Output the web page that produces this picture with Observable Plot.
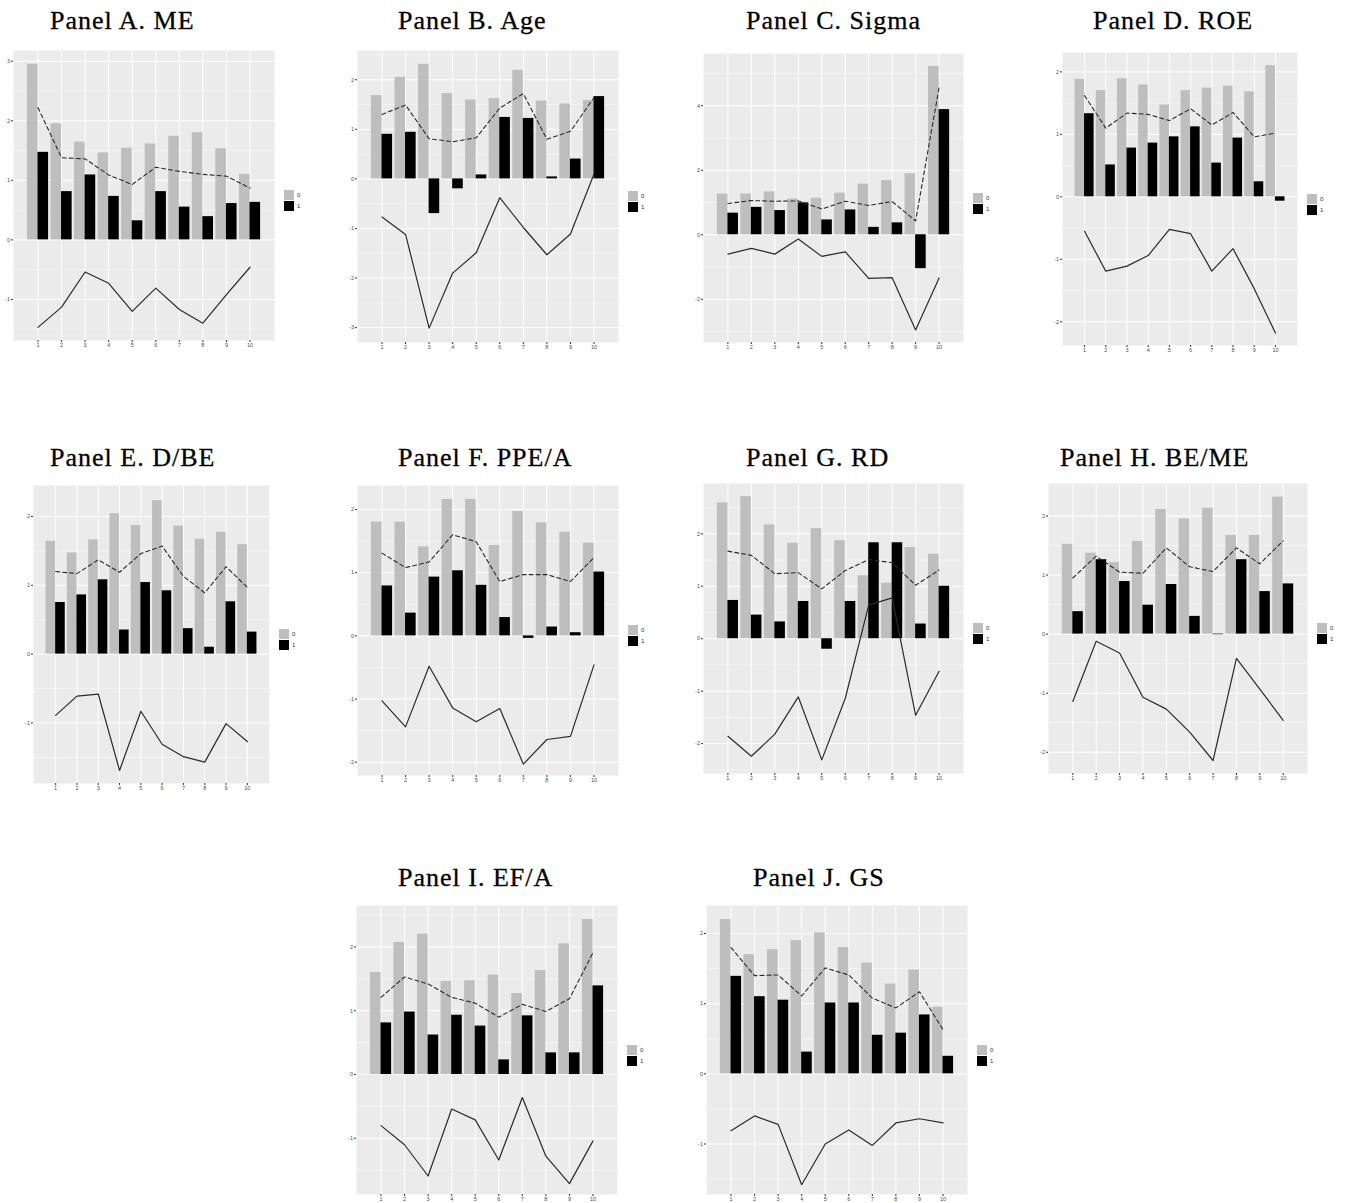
<!DOCTYPE html>
<html>
<head>
<meta charset="utf-8">
<script src="https://cdn.jsdelivr.net/npm/d3@7"></script>
<script src="https://cdn.jsdelivr.net/npm/@observablehq/plot@0.6"></script>
<style>
  html, body { margin: 0; padding: 0; background: #fff; }
  #page { position: relative; width: 1348px; height: 1203px; overflow: hidden; }
  .title { position: absolute; font-family: "Liberation Serif", "Times New Roman", serif; font-size: 26px; line-height: 1; letter-spacing: 1px; color: #000; white-space: nowrap; -webkit-text-stroke: 0.3px #000; }
  .chart { position: absolute; }
  .key { position: absolute; width: 10px; height: 10px; }
  .keylab { position: absolute; font-family: "Liberation Sans", Arial, sans-serif; font-size: 6px; color: #333; line-height: 10px; }
</style>
</head>
<body>
<div id="page"></div>
<script>
// Deciles on the x axis
const deciles = [1, 2, 3, 4, 5, 6, 7, 8, 9, 10];
const groups = ["0", "1"];
const groupColors = ["#BEBEBE", "#000000"];

// Panel A. ME
const meBar0 = [2.95, 1.95, 1.64, 1.46, 1.54, 1.61, 1.74, 1.80, 1.53, 1.10];
const meBar1 = [1.47, 0.81, 1.09, 0.73, 0.32, 0.81, 0.55, 0.39, 0.61, 0.63];
const meMean = [2.22, 1.38, 1.36, 1.09, 0.93, 1.22, 1.15, 1.10, 1.07, 0.87];
const meDiff = [-1.47, -1.13, -0.54, -0.73, -1.20, -0.81, -1.17, -1.40, -0.92, -0.46];

// Panel B. Age
const ageBar0 = [1.68, 2.05, 2.31, 1.72, 1.59, 1.62, 2.19, 1.57, 1.51, 1.58];
const ageBar1 = [0.90, 0.94, -0.70, -0.20, 0.08, 1.24, 1.22, 0.04, 0.40, 1.66];
const ageMean = [1.30, 1.49, 0.81, 0.75, 0.83, 1.43, 1.72, 0.80, 0.96, 1.64];
const ageDiff = [-0.77, -1.12, -3.01, -1.90, -1.49, -0.38, -0.98, -1.53, -1.11, 0.10];

// Panel C. Sigma
const sigmaBar0 = [1.26, 1.26, 1.33, 1.11, 1.13, 1.29, 1.57, 1.68, 1.89, 5.22];
const sigmaBar1 = [0.67, 0.85, 0.75, 0.99, 0.46, 0.77, 0.23, 0.37, -1.05, 3.88];
const sigmaMean = [0.97, 1.06, 1.04, 1.05, 0.80, 1.04, 0.91, 1.03, 0.43, 4.57];
const sigmaDiff = [-0.60, -0.42, -0.60, -0.13, -0.67, -0.53, -1.35, -1.33, -2.95, -1.34];

// Panel D. ROE
const roeBar0 = [1.88, 1.70, 1.89, 1.79, 1.47, 1.70, 1.74, 1.77, 1.68, 2.10];
const roeBar1 = [1.33, 0.51, 0.78, 0.86, 0.96, 1.12, 0.54, 0.94, 0.24, -0.07];
const roeMean = [1.62, 1.10, 1.34, 1.32, 1.22, 1.41, 1.15, 1.35, 0.96, 1.02];
const roeDiff = [-0.55, -1.19, -1.11, -0.94, -0.52, -0.59, -1.19, -0.83, -1.47, -2.18];

// Panel E. D/BE
const dbeBar0 = [1.64, 1.47, 1.66, 2.04, 1.87, 2.23, 1.86, 1.67, 1.77, 1.59];
const dbeBar1 = [0.75, 0.86, 1.08, 0.35, 1.04, 0.92, 0.37, 0.10, 0.76, 0.32];
const dbeMean = [1.20, 1.17, 1.37, 1.19, 1.46, 1.57, 1.13, 0.89, 1.27, 0.97];
const dbeDiff = [-0.89, -0.61, -0.58, -1.69, -0.83, -1.31, -1.49, -1.57, -1.01, -1.27];

// Panel F. PPE/A
const ppeBar0 = [1.80, 1.80, 1.41, 2.16, 2.16, 1.43, 1.97, 1.79, 1.64, 1.47];
const ppeBar1 = [0.79, 0.36, 0.93, 1.03, 0.80, 0.29, -0.04, 0.14, 0.05, 1.01];
const ppeMean = [1.31, 1.08, 1.17, 1.60, 1.49, 0.86, 0.97, 0.97, 0.86, 1.24];
const ppeDiff = [-1.03, -1.44, -0.48, -1.14, -1.36, -1.15, -2.03, -1.64, -1.59, -0.46];

// Panel G. RD
const rdBar0 = [2.59, 2.71, 2.17, 1.82, 2.10, 1.87, 1.20, 1.06, 1.74, 1.61];
const rdBar1 = [0.73, 0.45, 0.32, 0.71, -0.20, 0.71, 1.83, 1.83, 0.28, 1.00];
const rdMean = [1.67, 1.59, 1.24, 1.26, 0.95, 1.30, 1.51, 1.45, 1.02, 1.31];
const rdDiff = [-1.86, -2.24, -1.82, -1.11, -2.31, -1.14, 0.64, 0.78, -1.46, -0.62];

// Panel H. BE/ME
const bmBar0 = [1.52, 1.37, 1.21, 1.57, 2.11, 1.95, 2.13, 1.67, 1.67, 2.32];
const bmBar1 = [0.38, 1.26, 0.89, 0.49, 0.84, 0.30, -0.01, 1.26, 0.72, 0.85];
const bmMean = [0.95, 1.32, 1.05, 1.03, 1.46, 1.14, 1.06, 1.46, 1.19, 1.58];
const bmDiff = [-1.14, -0.12, -0.32, -1.07, -1.27, -1.66, -2.14, -0.41, -0.93, -1.46];

// Panel I. EF/A
const efaBar0 = [1.60, 2.07, 2.20, 1.46, 1.47, 1.56, 1.27, 1.63, 2.05, 2.43];
const efaBar1 = [0.81, 0.98, 0.62, 0.93, 0.76, 0.23, 0.92, 0.34, 0.34, 1.39];
const efaMean = [1.21, 1.53, 1.42, 1.21, 1.12, 0.90, 1.10, 0.99, 1.19, 1.91];
const efaDiff = [-0.80, -1.10, -1.59, -0.54, -0.71, -1.34, -0.36, -1.28, -1.71, -1.04];

// Panel J. GS
const gsBar0 = [2.20, 1.70, 1.77, 1.90, 2.01, 1.80, 1.58, 1.28, 1.48, 0.95];
const gsBar1 = [1.39, 1.10, 1.05, 0.31, 1.01, 1.01, 0.55, 0.58, 0.84, 0.25];
const gsMean = [1.80, 1.40, 1.41, 1.11, 1.51, 1.41, 1.08, 0.94, 1.17, 0.63];
const gsDiff = [-0.81, -0.60, -0.72, -1.58, -1.00, -0.80, -1.02, -0.70, -0.64, -0.70];

// Panel titles
const titles = ["Panel A. ME", "Panel B. Age", "Panel C. Sigma", "Panel D. ROE", "Panel E. D/BE",
  "Panel F. PPE/A", "Panel G. RD", "Panel H. BE/ME", "Panel I. EF/A", "Panel J. GS"];

const series = [
  [meBar0, meBar1, meMean, meDiff],
  [ageBar0, ageBar1, ageMean, ageDiff],
  [sigmaBar0, sigmaBar1, sigmaMean, sigmaDiff],
  [roeBar0, roeBar1, roeMean, roeDiff],
  [dbeBar0, dbeBar1, dbeMean, dbeDiff],
  [ppeBar0, ppeBar1, ppeMean, ppeDiff],
  [rdBar0, rdBar1, rdMean, rdDiff],
  [bmBar0, bmBar1, bmMean, bmDiff],
  [efaBar0, efaBar1, efaMean, efaDiff],
  [gsBar0, gsBar1, gsMean, gsDiff]
];

// Page layout: panel box (l, t, r, b), y range, y ticks, title anchor (left, baseline)
const layout = [
  {box: [13, 50, 274, 340],    y: [-1.69, 3.18], ticks: [-1, 0, 1, 2, 3],     tx: 50,   ty: 30},
  {box: [357, 50, 618, 342],   y: [-3.30, 2.59], ticks: [-3, -2, -1, 0, 1, 2], tx: 398,  ty: 30},
  {box: [703, 53, 963, 342],   y: [-3.34, 5.62], ticks: [-2, 0, 2, 4],         tx: 746,  ty: 30},
  {box: [1062, 52, 1297, 345], y: [-2.38, 2.31], ticks: [-2, -1, 0, 1, 2],     tx: 1093, ty: 30},
  {box: [33, 485, 269, 783],   y: [-1.88, 2.45], ticks: [-1, 0, 1, 2],         tx: 50,   ty: 467},
  {box: [357, 485, 618, 775],  y: [-2.21, 2.38], ticks: [-2, -1, 0, 1, 2],     tx: 398,  ty: 467},
  {box: [703, 483, 963, 773],  y: [-2.57, 2.96], ticks: [-2, -1, 0, 1, 2],     tx: 746,  ty: 467},
  {box: [1048, 483, 1307, 773], y: [-2.36, 2.55], ticks: [-2, -1, 0, 1, 2],    tx: 1060, ty: 467},
  {box: [356, 905, 617, 1194], y: [-1.88, 2.65], ticks: [-1, 0, 1, 2],         tx: 398,  ty: 887},
  {box: [706, 905, 967, 1194], y: [-1.72, 2.40], ticks: [-1, 0, 1, 2],         tx: 753,  ty: 887}
];

const page = document.getElementById("page");
const ML = 22, MB = 12, MT = 1, MR = 1;

function minorTicks(ticks, domain) {
  const step = ticks[1] - ticks[0];
  const out = [];
  for (let v = ticks[0] - step / 2; v <= domain[1]; v += step) {
    if (v >= domain[0] && !ticks.includes(v)) out.push(v);
  }
  return out;
}

layout.forEach((p, i) => {
  const [b0, b1, mean, diff] = series[i];
  const [l, t, r, b] = p.box;
  const rows = deciles.map((d, k) => ({decile: d, bar0: b0[k], bar1: b1[k], mean: mean[k], diff: diff[k]}));
  const bars = rows.flatMap(d => [
    {decile: d.decile, group: groups[0], value: d.bar0},
    {decile: d.decile, group: groups[1], value: d.bar1}
  ]);

  const chart = Plot.plot({
    width: (r - l) + ML + MR,
    height: (b - t) + MT + MB,
    marginLeft: ML, marginRight: MR, marginTop: MT, marginBottom: MB,
    style: {background: "transparent", fontFamily: "'Liberation Sans', Arial, sans-serif", fontSize: "5.5px", color: "#4D4D4D", overflow: "visible"},
    x: {type: "linear", domain: [-0.04, 11.04]},
    y: {domain: p.y},
    color: {domain: groups, range: groupColors},
    marks: [
      Plot.frame({fill: "#EBEBEB", stroke: null}),
      Plot.ruleY(minorTicks(p.ticks, p.y), {stroke: "#FFFFFF", strokeWidth: 0.5, strokeOpacity: 0.8}),
      Plot.ruleY(p.ticks, {stroke: "#FFFFFF", strokeWidth: 1}),
      Plot.ruleX(deciles, {stroke: "#FFFFFF", strokeWidth: 1}),
      Plot.rectY(bars, {
        x1: d => d.group === groups[0] ? d.decile - 0.45 : d.decile,
        x2: d => d.group === groups[0] ? d.decile : d.decile + 0.45,
        y: "value",
        fill: "group"
      }),
      Plot.line(rows, {x: "decile", y: "mean", stroke: "#2B2B2B", strokeWidth: 1.1, strokeDasharray: "4,3"}),
      Plot.line(rows, {x: "decile", y: "diff", stroke: "#2B2B2B", strokeWidth: 1.2}),
      Plot.axisX(deciles, {tickSize: 2, tickPadding: 1, stroke: "#333333", fill: "#4D4D4D", label: null, tickFormat: d => String(d)}),
      Plot.axisY(p.ticks, {tickSize: 2, tickPadding: 1.5, stroke: "#333333", fill: "#4D4D4D", label: null, tickFormat: d => String(d)})
    ]
  });
  chart.classList.add("chart");
  chart.style.left = (l - ML) + "px";
  chart.style.top = (t - MT) + "px";
  page.appendChild(chart);

  // Title
  const title = document.createElement("div");
  title.className = "title";
  title.textContent = titles[i];
  title.style.left = p.tx + "px";
  title.style.top = (p.ty - 22) + "px";
  page.appendChild(title);

  // Legend: one swatch per group, to the right of the panel
  const keyTop = (t + b) / 2 - 5;
  groups.forEach((g, k) => {
    const key = document.createElement("div");
    key.className = "key";
    key.style.background = groupColors[k];
    key.style.left = (r + 10) + "px";
    key.style.top = (keyTop + k * 11) + "px";
    page.appendChild(key);
    const lab = document.createElement("div");
    lab.className = "keylab";
    lab.textContent = g;
    lab.style.left = (r + 23) + "px";
    lab.style.top = (keyTop + k * 11) + "px";
    page.appendChild(lab);
  });
});
</script>
</body>
</html>
